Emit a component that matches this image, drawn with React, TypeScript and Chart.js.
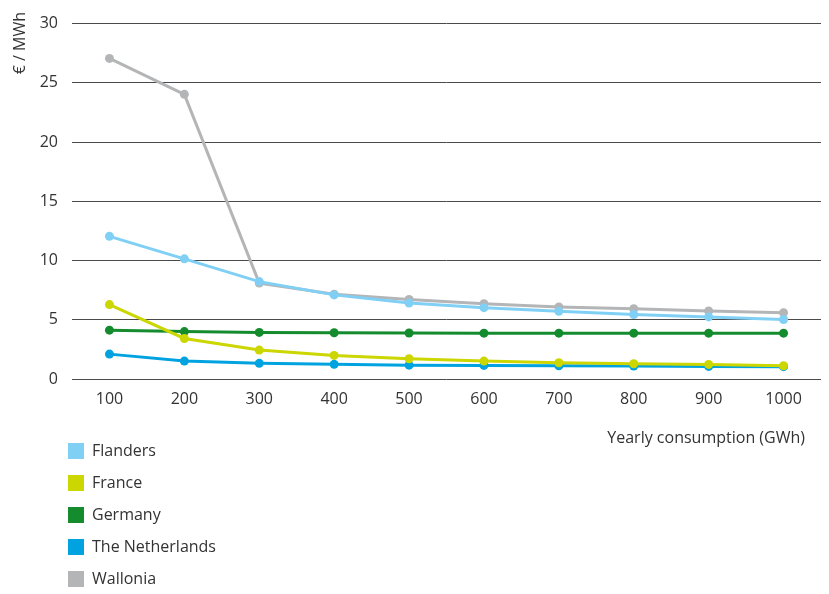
import React, { useEffect, useRef } from "react";
import { Chart, registerables } from "chart.js";

Chart.register(...registerables);

const categories = ["100", "200", "300", "400", "500", "600", "700", "800", "900", "1000"];
const flanders = [12.04, 10.14, 8.22, 7.1, 6.41, 6.02, 5.71, 5.44, 5.24, 5.02];
const france = [6.28, 3.42, 2.44, 1.99, 1.71, 1.51, 1.37, 1.29, 1.23, 1.12];
const germany = [4.12, 4.0, 3.93, 3.9, 3.88, 3.87, 3.87, 3.87, 3.87, 3.87];
const netherlands = [2.1, 1.51, 1.32, 1.24, 1.17, 1.15, 1.12, 1.09, 1.06, 1.04];
const wallonia = [27.06, 24.03, 8.1, 7.15, 6.72, 6.36, 6.08, 5.93, 5.74, 5.6];

const seriesNames = ["Flanders", "France", "Germany", "The Netherlands", "Wallonia"];
const seriesColors = ["#80d0f5", "#ccd600", "#148c2e", "#00a3e0", "#b4b5b7"];
const yTitle = "€ / MWh";
const xTitle = "Yearly consumption (GWh)";

const FONT = "'Open Sans', 'Noto Sans', sans-serif";
const TEXT = "#333333";

export default function App() {
  const ref = useRef<HTMLCanvasElement | null>(null);

  useEffect(() => {
    document.body.style.margin = "0";
    const canvas = ref.current;
    if (!canvas) return;
    const all = [flanders, france, germany, netherlands, wallonia];

    const overlay = {
      id: "overlay",
      afterDraw(chart: any) {
        const ctx = chart.ctx;
        ctx.save();
        ctx.fillStyle = TEXT;
        ctx.font = `16px ${FONT}`;
        // y title rotated at top-left
        ctx.save();
        ctx.translate(20, 12);
        ctx.rotate(-Math.PI / 2);
        ctx.textAlign = "right";
        ctx.textBaseline = "middle";
        ctx.fillText(yTitle, 0, 0);
        ctx.restore();
        // x title right-aligned
        ctx.textAlign = "right";
        ctx.textBaseline = "middle";
        ctx.fillText(xTitle, 805, 438);
        // legend
        ctx.textAlign = "left";
        seriesNames.forEach((n, i) => {
          const y = 443 + i * 32;
          ctx.fillStyle = seriesColors[i];
          ctx.fillRect(68, y, 16, 16);
          ctx.fillStyle = TEXT;
          ctx.fillText(n, 92, y + 8.5);
        });
        ctx.restore();
      },
    };

    const chart = new Chart(canvas, {
      type: "line",
      data: {
        labels: categories,
        datasets: seriesNames.map((n, i) => ({
          label: n,
          data: all[i],
          borderColor: seriesColors[i],
          backgroundColor: seriesColors[i],
          pointBackgroundColor: seriesColors[i],
          pointBorderColor: seriesColors[i],
          pointRadius: 4.5,
          pointBorderWidth: 0,
          borderWidth: 3,
          tension: 0,
          fill: false,
        })),
      },
      options: {
        responsive: false,
        animation: false,
        layout: { padding: { top: 22, right: 8, left: 0, bottom: 0 } },
        plugins: {
          legend: { display: false },
          tooltip: { enabled: false },
        },
        scales: {
          x: {
            offset: true,
            grid: { display: false, drawTicks: false },
            border: { display: false },
            ticks: { color: TEXT, font: { family: FONT, size: 16 }, padding: 11, maxRotation: 0 },
            afterFit: (s: any) => {
              s.height = 594 - 379;
            },
          },
          y: {
            min: 0,
            max: 30,
            grid: { color: "#4a4a4a", lineWidth: 1, drawTicks: false },
            border: { display: false },
            ticks: { stepSize: 5, color: TEXT, font: { family: FONT, size: 16 }, padding: 14 },
            afterFit: (s: any) => {
              s.width = 72;
            },
          },
        },
      },
      plugins: [overlay],
    });
    return () => chart.destroy();
  }, []);

  return (
    <div style={{ width: 829, height: 594 }}>
      <canvas ref={ref} width={829} height={594} style={{ display: "block" }} />
    </div>
  );
}
